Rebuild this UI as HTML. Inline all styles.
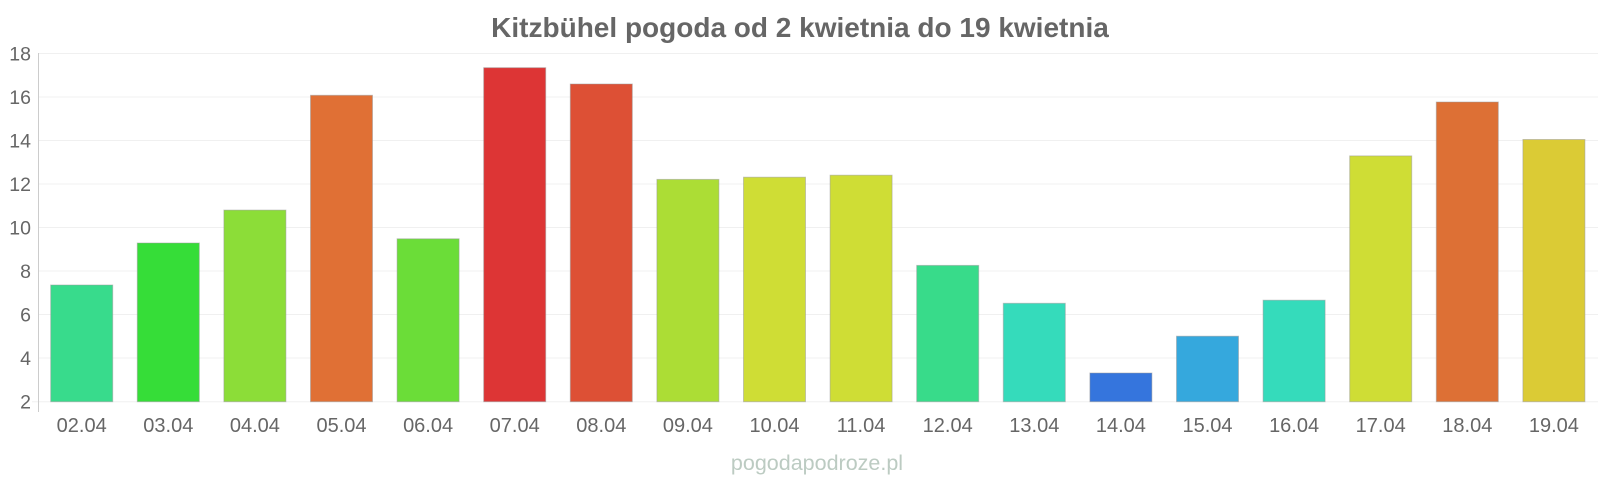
<!DOCTYPE html>
<html><head><meta charset="utf-8"><style>
html,body{margin:0;padding:0;background:#fff;}
svg{display:block;}
text{font-family:"Liberation Sans",sans-serif;}
</style></head><body>
<svg width="1600" height="480" viewBox="0 0 1600 480" xmlns="http://www.w3.org/2000/svg">
<text x="800" y="37" text-anchor="middle" font-size="28" font-weight="bold" fill="#666">Kitzbühel pogoda od 2 kwietnia do 19 kwietnia</text>
<g stroke="#f0f0f0" stroke-width="1">
<line x1="38" x2="1598" y1="53.5" y2="53.5"/>
<line x1="38" x2="1598" y1="97" y2="97"/>
<line x1="38" x2="1598" y1="140.5" y2="140.5"/>
<line x1="38" x2="1598" y1="184" y2="184"/>
<line x1="38" x2="1598" y1="227.5" y2="227.5"/>
<line x1="38" x2="1598" y1="271" y2="271"/>
<line x1="38" x2="1598" y1="314.5" y2="314.5"/>
<line x1="38" x2="1598" y1="358" y2="358"/>
<line x1="32" x2="1598" y1="401.7" y2="401.7"/>
</g>
<line x1="38.5" x2="38.5" y1="53" y2="412" stroke="#ccc"/>
<g font-size="19.5" fill="#666" text-anchor="end">
<text x="31" y="60.5">18</text><text x="31" y="104">16</text><text x="31" y="147.5">14</text>
<text x="31" y="191">12</text><text x="31" y="234.5">10</text><text x="31" y="278">8</text>
<text x="31" y="321.5">6</text><text x="31" y="365">4</text><text x="31" y="408.5">2</text>
</g>
<g stroke-width="1" stroke-opacity="0.5">
<rect x="50.7" y="285.0" width="62" height="116.7" fill="#38db8c" stroke="#999"/>
<rect x="137.3" y="243.0" width="62" height="158.7" fill="#36dd38" stroke="#999"/>
<rect x="223.9" y="210.1" width="62" height="191.6" fill="#8cdd38" stroke="#999"/>
<rect x="310.5" y="95.3" width="62" height="306.4" fill="#e07035" stroke="#999"/>
<rect x="397.1" y="238.8" width="62" height="162.9" fill="#6bdd38" stroke="#999"/>
<rect x="483.7" y="67.7" width="62" height="334.0" fill="#dd3535" stroke="#999"/>
<rect x="570.3" y="84.0" width="62" height="317.7" fill="#dd5035" stroke="#999"/>
<rect x="656.9" y="179.4" width="62" height="222.3" fill="#acdd35" stroke="#999"/>
<rect x="743.5" y="177.2" width="62" height="224.5" fill="#cfdd35" stroke="#999"/>
<rect x="830.1" y="175.2" width="62" height="226.5" fill="#cfdd35" stroke="#999"/>
<rect x="916.7" y="265.4" width="62" height="136.3" fill="#38db8a" stroke="#999"/>
<rect x="1003.3" y="303.3" width="62" height="98.4" fill="#35dbbb" stroke="#999"/>
<rect x="1089.9" y="373.0" width="62" height="28.7" fill="#3575dd" stroke="#999"/>
<rect x="1176.5" y="336.2" width="62" height="65.5" fill="#35a8dd" stroke="#999"/>
<rect x="1263.1" y="300.2" width="62" height="101.5" fill="#35dbbb" stroke="#999"/>
<rect x="1349.7" y="155.9" width="62" height="245.8" fill="#cfdd35" stroke="#999"/>
<rect x="1436.3" y="102.0" width="62" height="299.7" fill="#dd7035" stroke="#999"/>
<rect x="1522.9" y="139.5" width="62" height="262.2" fill="#dbcb35" stroke="#999"/>
</g>
<g font-size="20" fill="#666" text-anchor="middle">
<text x="81.7" y="432">02.04</text><text x="168.3" y="432">03.04</text><text x="254.9" y="432">04.04</text>
<text x="341.5" y="432">05.04</text><text x="428.1" y="432">06.04</text><text x="514.7" y="432">07.04</text>
<text x="601.3" y="432">08.04</text><text x="687.9" y="432">09.04</text><text x="774.5" y="432">10.04</text>
<text x="861.1" y="432">11.04</text><text x="947.7" y="432">12.04</text><text x="1034.3" y="432">13.04</text>
<text x="1120.9" y="432">14.04</text><text x="1207.5" y="432">15.04</text><text x="1294.1" y="432">16.04</text>
<text x="1380.7" y="432">17.04</text><text x="1467.3" y="432">18.04</text><text x="1553.9" y="432">19.04</text>
</g>
<text x="817" y="470" text-anchor="middle" font-size="21.5" fill="#bccbc2">pogodapodroze.pl</text>
</svg>
</body></html>
